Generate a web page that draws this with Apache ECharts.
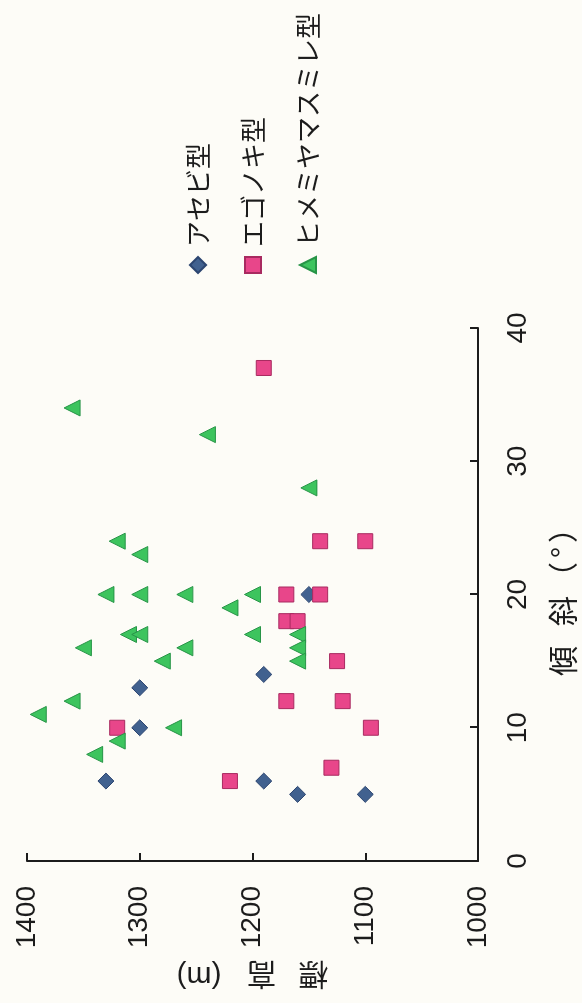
<!DOCTYPE html>
<html>
<head>
<meta charset="utf-8">
<script src="https://cdn.jsdelivr.net/npm/echarts@6/dist/echarts.min.js"></script>
<style>
  html, body { margin: 0; padding: 0; overflow: hidden; background: #fdfcf7; width: 582px; height: 1003px; }
  /* The chart is laid out landscape and turned a quarter turn counter-clockwise onto the portrait page. */
  #chart {
    position: absolute; left: 0; top: 0;
    width: 1003px; height: 582px;
    transform-origin: 0 0;
    transform: translate(0, 1003px) rotate(-90deg);
  }
</style>
</head>
<body>
<div id="chart"></div>
<script>
// Slope (°) and elevation (m) of each plot, by vegetation type
const typeNames = ['アセビ型', 'エゴノキ型', 'ヒメミヤマスミレ型'];

const asebiSlope = [6, 13, 10, 20, 14, 6, 5, 5];
const asebiElevation = [1330, 1300, 1300, 1150, 1190, 1190, 1160, 1100];

const egonokiSlope = [37, 24, 24, 20, 20, 18, 18, 15, 12, 12, 10, 7, 6, 10];
const egonokiElevation = [1190, 1140, 1100, 1170, 1140, 1170, 1160, 1125, 1170, 1120, 1095, 1130, 1220, 1320];

const himeSlope = [34, 32, 24, 23, 20, 20, 20, 20, 19, 17, 17, 16, 16, 15, 12, 11, 10, 9, 8, 17, 17, 16, 15, 28];
const himeElevation = [1360, 1240, 1320, 1300, 1330, 1300, 1260, 1200, 1220, 1310, 1300, 1350, 1260, 1280, 1360, 1390, 1270, 1320, 1340, 1200, 1160, 1160, 1160, 1150];

const slopeTicks = [0, 10, 20, 30, 40];
const elevationTicks = [1000, 1100, 1200, 1300, 1400];

function pairs(xs, ys) {
  return xs.map((x, i) => [x, ys[i]]);
}

const numFont = '"Liberation Sans", Arial, sans-serif';
const jpFont = '"Noto Sans CJK JP", sans-serif';
const ink = '#1c1c1c';

const chart = echarts.init(document.getElementById('chart'), null, { renderer: 'canvas' });

const axisCommon = {
  type: 'value',
  axisLine: { show: true, lineStyle: { color: ink, width: 2 } },
  axisTick: { show: true, inside: true, length: 8, lineStyle: { color: ink, width: 2 } },
  splitLine: { show: false },
  axisLabel: { color: ink, fontSize: 28, fontFamily: numFont, formatter: v => String(v) }
};

chart.setOption({
  backgroundColor: '#fdfcf7',
  animation: false,
  grid: { left: 142, right: 328, top: 27, bottom: 104, outerBoundsMode: 'none' },
  xAxis: Object.assign({}, axisCommon, {
    min: slopeTicks[0],
    max: slopeTicks[slopeTicks.length - 1],
    interval: 10,
    position: 'bottom',
    axisLabel: Object.assign({}, axisCommon.axisLabel, { margin: 26 }),
    name: '{a|傾}{b|斜}{c|（}{d|°}{e|）}',
    nameLocation: 'middle',
    nameGap: 70,
    nameTextStyle: {
      rich: {
        a: { fontSize: 30, fontFamily: jpFont, color: ink },
        b: { fontSize: 30, fontFamily: jpFont, color: ink, padding: [0, 0, 0, 20] },
        c: { fontSize: 30, fontFamily: jpFont, color: ink, padding: [0, 0, 0, 4] },
        d: { fontSize: 30, fontFamily: jpFont, color: ink, padding: [0, 4, 0, 4] },
        e: { fontSize: 30, fontFamily: jpFont, color: ink }
      }
    }
  }),
  yAxis: Object.assign({}, axisCommon, {
    min: elevationTicks[0],
    max: elevationTicks[elevationTicks.length - 1],
    interval: 100,
    axisLabel: Object.assign({}, axisCommon.axisLabel, { margin: 25 }),
    name: '{a|標}{b|高}{m|(m)}',
    nameLocation: 'middle',
    nameRotate: 90,
    nameGap: 99,
    nameTextStyle: {
      rich: {
        a: { fontSize: 30, fontFamily: jpFont, color: ink },
        b: { fontSize: 30, fontFamily: jpFont, color: ink, padding: [0, 25, 0, 22] },
        m: { fontSize: 30, fontFamily: numFont, color: ink }
      }
    }
  }),
  legend: {
    orient: 'vertical',
    left: 729,
    top: 185,
    padding: 0,
    itemWidth: 16,
    itemHeight: 16,
    itemGap: 29,
    data: typeNames,
    textStyle: { fontSize: 26, lineHeight: 26, fontFamily: jpFont, color: ink, padding: [0, 0, 0, 5] }
  },
  series: [
    {
      name: typeNames[0],
      type: 'scatter',
      symbol: 'diamond',
      symbolSize: 16,
      itemStyle: { color: '#41618f', borderColor: '#2c4570', borderWidth: 1, opacity: 1 },
      data: pairs(asebiSlope, asebiElevation)
    },
    {
      name: typeNames[1],
      type: 'scatter',
      symbol: 'rect',
      symbolSize: 15,
      itemStyle: { color: '#e8468a', borderColor: '#a82a60', borderWidth: 1, opacity: 1 },
      data: pairs(egonokiSlope, egonokiElevation)
    },
    {
      name: typeNames[2],
      type: 'scatter',
      symbol: 'triangle',
      symbolSize: 16,
      itemStyle: { color: '#3dc45e', borderColor: '#279447', borderWidth: 1, opacity: 1 },
      data: pairs(himeSlope, himeElevation)
    }
  ]
});
</script>
</body>
</html>
